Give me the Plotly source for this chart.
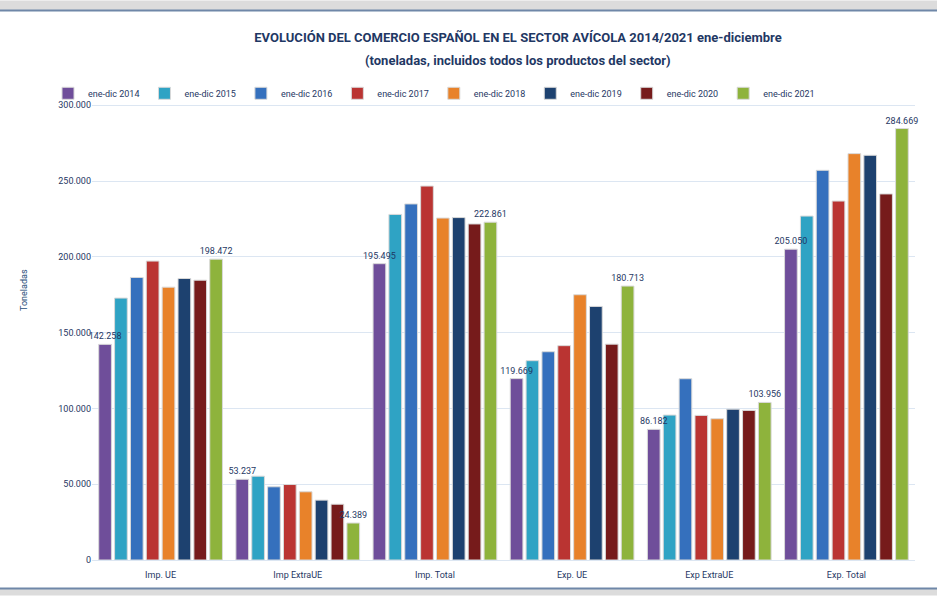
import plotly.graph_objects as go

# Datos (toneladas)
categorias = ["Imp. UE", "Imp ExtraUE", "Imp. Total", "Exp. UE", "Exp ExtraUE", "Exp. Total"]
series = ["ene-dic 2014", "ene-dic 2015", "ene-dic 2016", "ene-dic 2017",
          "ene-dic 2018", "ene-dic 2019", "ene-dic 2020", "ene-dic 2021"]

v2014 = [142258, 53237, 195495, 119669, 86182, 205050]
v2015 = [172800, 55300, 228000, 131500, 95600, 226900]
v2016 = [186400, 48300, 234900, 137400, 119600, 257100]
v2017 = [197200, 49800, 246700, 141400, 95400, 236800]
v2018 = [180000, 45000, 225600, 175000, 93200, 268100]
v2019 = [185700, 39500, 225900, 167300, 99500, 267000]
v2020 = [184600, 36800, 221700, 142400, 98700, 241500]
v2021 = [198472, 24389, 222861, 180713, 103956, 284669]

valores = [v2014, v2015, v2016, v2017, v2018, v2019, v2020, v2021]
colores = ["#6F4E9A", "#2FA3C4", "#3570BD", "#BA3432",
           "#E8822A", "#1D416F", "#761B1B", "#8EB33C"]

azul = "#1F3864"
fuente = "Roboto, Open Sans, sans-serif"


def etiqueta(v):
    return f"{v:,}".replace(",", ".")


# geometría de los grupos (barras superpuestas con desplazamiento propio)
paso = 0.925 / len(series)
ancho = paso * 0.8

fig = go.Figure()
# 2014 y 2021 se dibujan al final para que sus etiquetas queden encima
orden = [1, 2, 3, 4, 5, 6, 0, 7]
for i in orden:
    vals = valores[i]
    textos = [etiqueta(v) if i in (0, len(series) - 1) else "" for v in vals]
    fig.add_trace(go.Bar(
        x=categorias,
        y=vals,
        name=series[i],
        legendrank=i,
        width=ancho,
        offset=-0.4625 + i * paso + 0.1 * paso,
        marker=dict(color=colores[i], line=dict(color="#D9D9D9", width=1)),
        text=textos,
        textposition="outside",
        constraintext="none",
        textfont=dict(size=9, color=azul, family=fuente),
        cliponaxis=False,
    ))

# área de trazado: 0 en y=560.5 px, tope del rango algo por encima de 300.000
y_max = 301500
alto = 455.5 * y_max / 300000
top = 560.5 - alto
py = lambda p: (560.5 - p) / alto

# marco gris superior/inferior
fig.add_shape(type="rect", xref="paper", yref="paper", x0=-0.2, x1=1.1,
              y0=py(9.5), y1=py(0), fillcolor="#DCDCDC", line_width=0, layer="below")
fig.add_shape(type="rect", xref="paper", yref="paper", x0=-0.2, x1=1.1,
              y0=py(596), y1=py(589.5), fillcolor="#DCDCDC", line_width=0, layer="below")
fig.add_shape(type="line", xref="paper", yref="paper", x0=-0.2, x1=1.1,
              y0=py(10), y1=py(10), line=dict(color="#6F87A8", width=2))
fig.add_shape(type="line", xref="paper", yref="paper", x0=-0.2, x1=1.1,
              y0=py(589), y1=py(589), line=dict(color="#6F87A8", width=2))

fig.add_annotation(text="Toneladas", xref="paper", yref="paper",
                   x=(17 - 92) / 823, y=py(290), showarrow=False, textangle=-90,
                   font=dict(size=9, color="#1F4E79", family=fuente))
fig.add_annotation(text="(toneladas, incluidos todos los productos del sector)",
                   xref="paper", yref="paper", x=(518 - 92) / 823, y=py(60),
                   showarrow=False, xanchor="center", yanchor="middle",
                   font=dict(size=13, color=azul, family=fuente, weight="bold"))

fig.update_layout(
    width=937, height=596,
    margin=dict(l=92, r=22, t=top, b=35.5),
    paper_bgcolor="white", plot_bgcolor="white",
    separators=",.",
    barmode="overlay",
    title=dict(
        text="EVOLUCIÓN DEL COMERCIO ESPAÑOL EN EL SECTOR AVÍCOLA 2014/2021 ene-diciembre",
        xref="paper", x=(518 - 92) / 823, xanchor="center",
        yref="container", y=1 - 37 / 596, yanchor="middle",
        font=dict(size=13, color=azul, family=fuente, weight="bold"),
    ),
    legend=dict(orientation="h", x=(434 - 92) / 823, xanchor="center",
                y=py(93), yanchor="middle", bgcolor="rgba(0,0,0,0)",
                font=dict(size=9, color=azul, family=fuente), itemwidth=30),
    showlegend=True,
    yaxis=dict(range=[0, y_max], tickvals=[0, 50000, 100000, 150000, 200000, 250000, 300000],
               tickformat=",d",
               gridcolor="#DCE6F2", gridwidth=1, zeroline=False,
               tickfont=dict(size=9, color=azul, family=fuente)),
    xaxis=dict(showline=True, linecolor="#DCE6F2", ticks="outside", ticklen=6,
               tickcolor="rgba(0,0,0,0)",
               tickfont=dict(size=9, color=azul, family=fuente)),
)

fig.write_html("out.html", post_script="document.body.style.margin='0';",
               config={"displayModeBar": False})
